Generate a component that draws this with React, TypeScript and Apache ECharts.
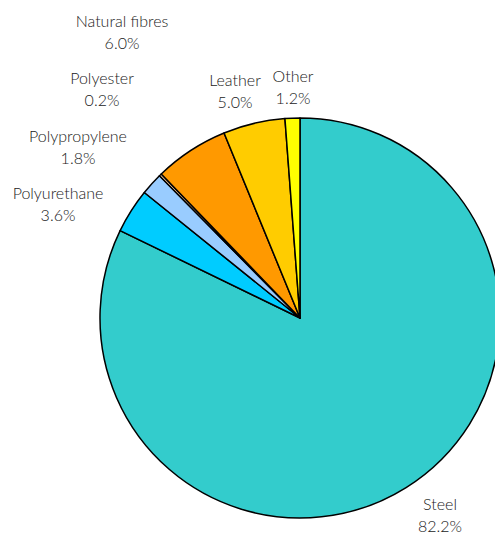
import React, { useEffect, useRef } from "react";
import * as echarts from "echarts";

const categories = ["Steel", "Polyurethane", "Polypropylene", "Polyester", "Natural fibres", "Leather", "Other"];
const shares = [82.2, 3.6, 1.8, 0.2, 6.0, 5.0, 1.2];
const colors = ["#33CCCC", "#00CCFF", "#99CCFF", "#FFCC99", "#FF9900", "#FFCC00", "#FFFF00"];
// label anchor positions (layout only)
const labelPos: [number, number][] = [
  [440, 514],
  [58, 203],
  [78, 146],
  [102, 88],
  [122, 31],
  [235, 90],
  [293, 86],
];

export default function App() {
  const ref = useRef<HTMLDivElement>(null);
  useEffect(() => {
    if (!ref.current) return;
    const chart = echarts.init(ref.current, null, { renderer: "svg" });
    chart.setOption({
      animation: false,
      backgroundColor: "#ffffff",
      series: [
        {
          type: "pie",
          center: [300, 318],
          radius: 200,
          startAngle: 90,
          clockwise: true,
          avoidLabelOverlap: false,
          data: categories.map((name, i) => ({
            name,
            value: shares[i],
            itemStyle: { color: colors[i] },
          })),
          itemStyle: { borderColor: "#000000", borderWidth: 1.5 },
          label: {
            show: true,
            position: "outside",
            overflow: "none",
            formatter: (p: any) => `${p.name}\n${shares[p.dataIndex].toFixed(1)}%`,
            fontFamily: "Lato",
            fontWeight: 300,
            fontSize: 16,
            lineHeight: 22,
            color: "#1a1a1a",
            align: "center",
          },
          labelLine: { show: false },
          labelLayout: (p: any) => ({
            x: labelPos[p.dataIndex][0],
            y: labelPos[p.dataIndex][1],
            align: "center",
            verticalAlign: "middle",
            width: 200,
          }),
          emphasis: { disabled: true },
        },
      ],
    });
    return () => chart.dispose();
  }, []);
  return (
    <div
      ref={ref}
      style={{ position: "fixed", left: 0, top: 0, width: 495, height: 537 }}
    />
  );
}
